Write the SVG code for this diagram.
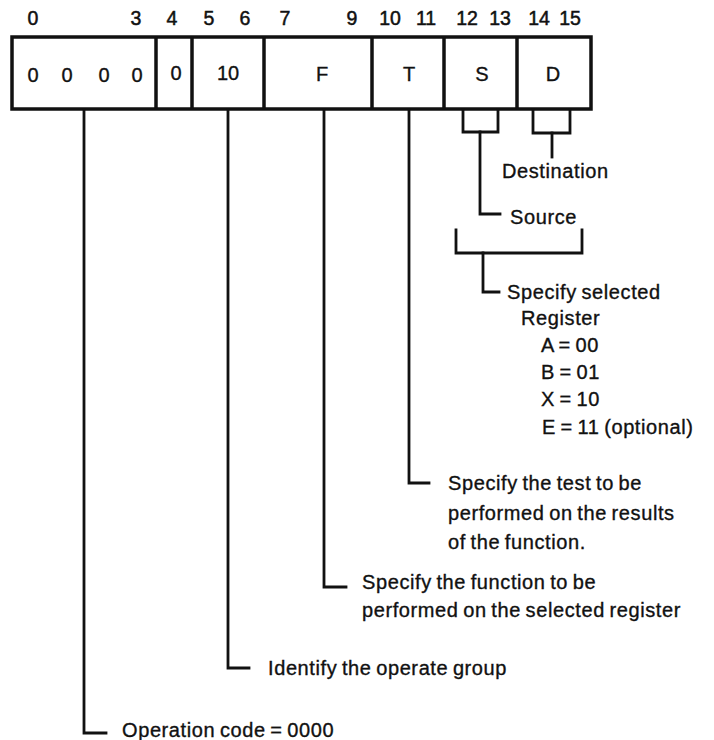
<svg xmlns="http://www.w3.org/2000/svg" width="714" height="740" viewBox="0 0 714 740">
<style>
text{font-family:"Liberation Sans",Arial,sans-serif;font-size:20px;fill:#111;stroke:#111;stroke-width:0.35;letter-spacing:0.6px;word-spacing:-1.5px}
.c{text-anchor:middle;letter-spacing:0;word-spacing:0}
.h{font-size:19.5px;stroke-width:0.5}
.box{fill:#fff;stroke:#111;stroke-width:3.5}
.div{stroke:#111;stroke-width:3.5}
.ln{fill:none;stroke:#111;stroke-width:2.8;stroke-linejoin:miter;stroke-linecap:square}
</style>
<rect width="714" height="740" fill="#fff"/>
<g id="header">
<text class="c h" x="33" y="25">0</text>
<text class="c h" x="136" y="25">3</text>
<text class="c h" x="172" y="25">4</text>
<text class="c h" x="209" y="25">5</text>
<text class="c h" x="245" y="25">6</text>
<text class="c h" x="285" y="25">7</text>
<text class="c h" x="352" y="25">9</text>
<text class="c h" x="390" y="25">10</text>
<text class="c h" x="426" y="25">11</text>
<text class="c h" x="467" y="25">12</text>
<text class="c h" x="500" y="25">13</text>
<text class="c h" x="539" y="25">14</text>
<text class="c h" x="570" y="25">15</text>
</g>
<g id="word">
<rect class="box" x="12" y="37" width="579" height="72"/>
<line class="div" x1="156" y1="37" x2="156" y2="109"/>
<line class="div" x1="192" y1="37" x2="192" y2="109"/>
<line class="div" x1="264" y1="37" x2="264" y2="109"/>
<line class="div" x1="372" y1="37" x2="372" y2="109"/>
<line class="div" x1="444" y1="37" x2="444" y2="109"/>
<line class="div" x1="517" y1="37" x2="517" y2="109"/>
<text class="c" x="33" y="82">0</text>
<text class="c" x="67" y="82">0</text>
<text class="c" x="104" y="82">0</text>
<text class="c" x="137" y="82">0</text>
<text class="c" x="176" y="80">0</text>
<text class="c" x="228" y="80">10</text>
<text class="c" x="322" y="81">F</text>
<text class="c" x="409" y="81">T</text>
<text class="c" x="482" y="81">S</text>
<text class="c" x="553" y="81">D</text>
</g>
<g id="connectors">
<path class="ln" d="M463 110 V132 H498 V110"/>
<path class="ln" d="M533 110 V133 H570 V110"/>
<path class="ln" d="M552 133 V157"/>
<path class="ln" d="M480 132 V214 H500"/>
<path class="ln" d="M456 230 V253 H582 V230"/>
<path class="ln" d="M483 253 V292 H499"/>
<path class="ln" d="M409 110 V483 H429"/>
<path class="ln" d="M324 110 V587 H346"/>
<path class="ln" d="M228 110 V668 H249"/>
<path class="ln" d="M84 110 V733 H106"/>
</g>
<g id="labels">
<text x="502" y="178">Destination</text>
<text x="510" y="224">Source</text>
<text x="507" y="299">Specify selected</text>
<text x="521" y="325">Register</text>
<text x="541" y="352">A = 00</text>
<text x="541" y="379">B = 01</text>
<text x="541" y="406">X = 10</text>
<text x="542" y="434">E = 11 (optional)</text>
<text x="448" y="490">Specify the test to be</text>
<text x="448" y="520">performed on the results</text>
<text x="448" y="549">of the function.</text>
<text x="362" y="589">Specify the function to be</text>
<text x="362" y="617">performed on the selected register</text>
<text x="268" y="675">Identify the operate group</text>
<text x="122" y="737">Operation code = 0000</text>
</g>
</svg>
